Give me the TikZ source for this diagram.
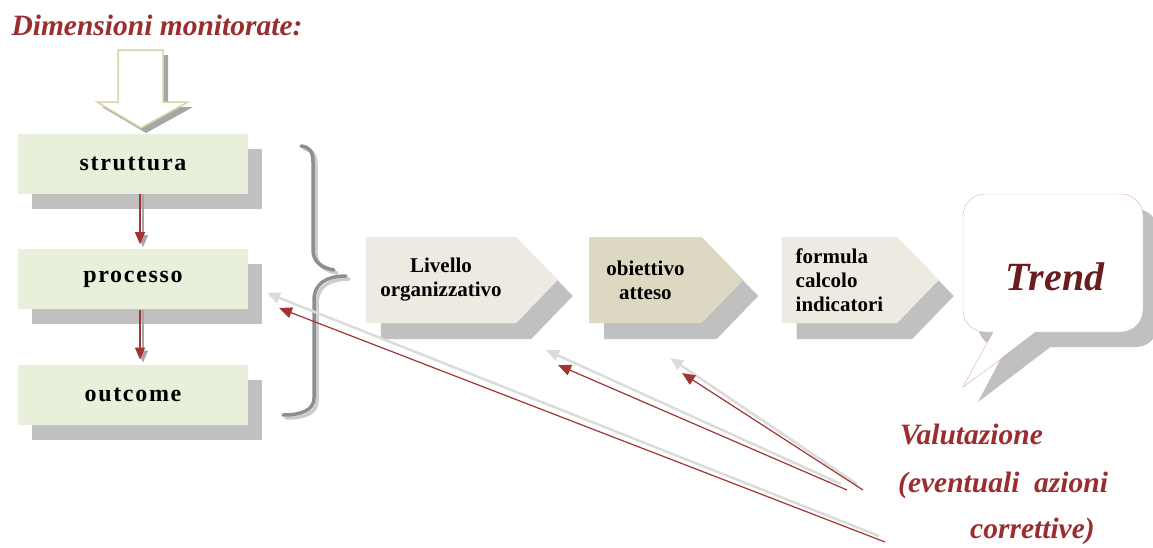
\documentclass[tikz,border=0pt]{standalone}
\usepackage{fontspec}
\setmainfont{Liberation Serif}
\newfontfamily\spaced{Liberation Serif}[LetterSpace=7]
\usetikzlibrary{shapes,shapes.symbols,arrows.meta,positioning,shadows,calc}
\definecolor{boxgreen}{HTML}{E8F0DC}
\definecolor{chevlight}{HTML}{EDEBE1}
\definecolor{chevdark}{HTML}{DDD8C2}
\definecolor{shadowgray}{HTML}{C0C0C0}
\definecolor{titlered}{HTML}{9B2D2F}
\definecolor{trendred}{HTML}{6A1C1E}
\definecolor{arrowred}{HTML}{A23434}
\definecolor{bracegray}{HTML}{8E8E8E}
\definecolor{calloutpink}{HTML}{E3A9A9}
\definecolor{hollowedge}{HTML}{D8D3A8}
\tikzset{
    box/.style ={rectangle, fill=boxgreen, minimum width=230pt, minimum height=60pt,
        font=\spaced\bfseries\fontsize{24}{28}\selectfont,
        drop shadow={shadow xshift=14pt, shadow yshift=-15pt, fill=shadowgray, opacity=1}},
    chevron/.style={signal, signal to=east, signal pointer angle=92, minimum height=86pt,
        fill=chevlight, align=center, font=\bfseries\fontsize{21}{24}\selectfont,
        drop shadow={shadow xshift=15pt, shadow yshift=-16pt, fill=shadowgray, opacity=1}},
    flow/.style={-{Triangle[length=12pt,width=10pt]}, draw=arrowred, line width=1.2pt},
    flowshade/.style={-{Triangle[length=12pt,width=10pt]}, draw=gray!70, line width=1.2pt},
    back/.style={-{Triangle[length=13pt,width=11pt]}, draw=arrowred, line width=1.2pt},
    backshade/.style={-{Triangle[length=13pt,width=11pt]}, draw=gray!28, line width=2.5pt},
    redtext/.style={text=titlered, font=\bfseries\itshape\fontsize{29.5}{33}\selectfont, inner sep=0pt},
    bracket/.style={line width=3.5pt, line cap=round}
}
\begin{document}
\begin{tikzpicture}[x=1pt,y=-1pt]
    \useasboundingbox (0,0) rectangle (1153,547);

    \node[redtext] (dim) at (157,25) {Dimensioni monitorate:};
    \fill[gray!70, shift={(5,5)}] (118,50) -- (163,50) -- (163,102) -- (188,102) -- (141,128) -- (97,102) -- (118,102) -- cycle;
    \filldraw[fill=white, draw=hollowedge, line width=1.5pt] (118,50) -- (163,50) -- (163,102) -- (188,102) -- (141,128) -- (97,102) -- (118,102) -- cycle;

    \node[box] (struttura) at (133,164) {struttura};
    \node[box, below=55pt of struttura] (processo) {processo};
    \node[box, below=55pt of processo] (outcome) {outcome};

    \draw[flowshade] ([xshift=10pt]struttura.south) -- ([xshift=10pt,yshift=2pt]processo.north);
    \draw[flow] ([xshift=7pt]struttura.south) -- ([xshift=7pt,yshift=5pt]processo.north);
    \draw[flowshade] ([xshift=10pt]processo.south) -- ([xshift=10pt,yshift=2pt]outcome.north);
    \draw[flow] ([xshift=7pt]processo.south) -- ([xshift=7pt,yshift=5pt]outcome.north);

    % graffa
    \draw[bracket, bracegray!45, shift={(3,3)}] (301,146) .. controls (310,147) and (313,152) .. (313,162) -- (313,250) .. controls (313,262) and (322,268) .. (334,270);
    \draw[bracket, bracegray!45, shift={(3,3)}] (346,276) .. controls (326,276) and (314,284) .. (314,300) -- (314,398) .. controls (314,410) and (302,415) .. (283,415);
    \draw[bracket, bracegray] (301,146) .. controls (310,147) and (313,152) .. (313,162) -- (313,250) .. controls (313,262) and (322,268) .. (334,270);
    \draw[bracket, bracegray] (346,276) .. controls (326,276) and (314,284) .. (314,300) -- (314,398) .. controls (314,410) and (302,415) .. (283,415);

    \node[chevron, minimum width=192pt] (livello) at (441,280) {Livello\\organizzativo};
    \node[chevron, minimum width=154pt, fill=chevdark, right=31pt of livello] (obiettivo) {obiettivo\\atteso};
    \node[chevron, minimum width=157pt, align=left, right=38pt of obiettivo] (formula) {formula\\calcolo\\indicatori};

    % fumetto
    \fill[shadowgray, rounded corners=22pt] (978,209) rectangle (1158,347);
    \fill[shadowgray] (1008,345) -- (978,402) -- (1053,345) -- cycle;
    \node[draw=calloutpink, fill=white, rounded corners=22pt, minimum width=180pt, minimum height=138pt] (bubble) at (1053,263) {};
    \fill[white] (994,330.5) -- (963,387) -- (1037,330.5) -- cycle;
    \draw[calloutpink] ($(bubble.south west)+(30,0)$) -- (963,387) -- ($(bubble.south west)+(75,0)$);
    \node[text=trendred, font=\bfseries\itshape\fontsize{40}{44}\selectfont] (trend) at (1055,277) {Trend};

    \node[redtext, anchor=west] (val1) at (900,434) {Valutazione};
    \node[redtext, anchor=west] (val2) at (898,485) {(eventuali\ \ azioni};
    \node[redtext, anchor=west] (val3) at (970,531) {correttive)};

    \coordinate (vA) at (885,542); \coordinate (tA) at (279,308);
    \coordinate (vB) at (847,490); \coordinate (tB) at (558,365);
    \coordinate (vC) at (863,490); \coordinate (tC) at (682,373);
    \foreach \v/\t in {vA/tA, vB/tB, vC/tC} {
        \draw[backshade] ($(\v)+(-6,-6)$) -- ($(\t)+(-12,-15)$);
        \draw[back] (\v) -- (\t);
    }
\end{tikzpicture}
\end{document}
